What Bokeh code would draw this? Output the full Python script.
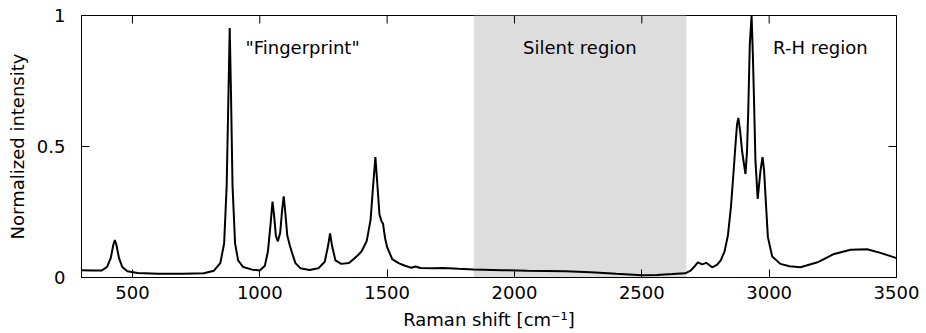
import math
from bokeh.plotting import figure
from bokeh.models import (Range1d, FixedTicker, NumeralTickFormatter,
                          BoxAnnotation, ColumnDataSource, Label)
from bokeh.embed import file_html
from bokeh.resources import INLINE

# Raman shift (cm^-1) and normalized intensity
shift = [300, 340, 380, 400, 415, 425, 431, 437, 447, 460, 480, 520, 600, 700, 780,
         820, 845, 860, 870, 877, 882, 887, 893, 903, 915, 935, 970, 1000,
         1020, 1032, 1042, 1050, 1056, 1063, 1071, 1080, 1088, 1094, 1100, 1108,
         1118, 1128, 1140, 1160, 1195, 1230, 1255, 1268, 1276, 1284, 1297, 1320,
         1350, 1370, 1385, 1400, 1420, 1435, 1445, 1454, 1462, 1470, 1478, 1484,
         1492, 1500, 1520, 1545, 1570, 1595, 1612, 1630, 1680, 1720, 1780, 1840,
         1950, 2050, 2200, 2300, 2400, 2500, 2560, 2620, 2670, 2690, 2705, 2720,
         2737, 2753, 2776, 2795, 2810, 2825, 2838, 2850, 2860, 2868, 2874, 2879,
         2886, 2894, 2907, 2913, 2918, 2924, 2931, 2936, 2940, 2946, 2955, 2966,
         2974, 2980, 2986, 2995, 3012, 3044, 3080, 3123, 3190, 3255, 3320, 3385,
         3440, 3500]
intensity = [0.028, 0.027, 0.027, 0.040, 0.075, 0.125, 0.143, 0.125, 0.075, 0.040,
             0.024, 0.017, 0.014, 0.014, 0.016,
             0.026, 0.055, 0.13, 0.35, 0.70, 0.952, 0.70, 0.35, 0.13, 0.065, 0.04,
             0.03, 0.027,
             0.045, 0.10, 0.20, 0.29, 0.24, 0.16, 0.138, 0.17, 0.26, 0.31, 0.25, 0.16,
             0.122, 0.09, 0.055, 0.035, 0.029, 0.035, 0.06, 0.12, 0.168, 0.12, 0.065,
             0.052,
             0.055, 0.072, 0.085, 0.10, 0.14, 0.22, 0.35, 0.46, 0.35, 0.24, 0.215,
             0.205,
             0.15, 0.116, 0.07, 0.055, 0.045, 0.037, 0.042, 0.036, 0.035, 0.036, 0.033,
             0.031,
             0.028, 0.026, 0.024, 0.02, 0.014, 0.009, 0.010, 0.013, 0.016, 0.025, 0.04,
             0.058,
             0.05, 0.056, 0.039, 0.048, 0.065, 0.10, 0.16, 0.27, 0.40, 0.51, 0.585,
             0.609,
             0.56, 0.48, 0.395, 0.48, 0.64, 0.89, 1.0, 0.85, 0.70, 0.45, 0.30, 0.408,
             0.459, 0.41, 0.306, 0.154, 0.08, 0.052, 0.043, 0.039, 0.058, 0.09, 0.106,
             0.108, 0.093, 0.074]

silent_start, silent_end = 1840, 2675
region_names = ['"Fingerprint"', "Silent region", "R-H region"]
region_x = [1168, 2257, 3201]
region_y = [0.877, 0.877, 0.877]

x_ticks = [500, 1000, 1500, 2000, 2500, 3000, 3500]
y_ticks = [0, 0.5, 1]

FONT = "DejaVu Sans"
FS = "18px"
TICK = 8

p = figure(width=926, height=333, output_backend="svg", toolbar_location=None,
           x_range=Range1d(300, 3500), y_range=Range1d(0, 1),
           min_border_left=81, min_border_right=30, min_border_top=15,
           min_border_bottom=56, x_axis_label="Raman shift [cm⁻¹]",
           y_axis_label="Normalized intensity")
p.grid.visible = False
p.outline_line_color = "black"
p.outline_line_width = 1
p.background_fill_color = "white"
p.border_fill_color = "white"

p.add_layout(BoxAnnotation(left=silent_start, right=silent_end,
                           fill_color="#dddddd", fill_alpha=1.0,
                           line_color=None, level="underlay"))

src = ColumnDataSource(dict(x=shift, y=intensity))
p.line("x", "y", source=src, line_color="black", line_width=2)

for t, xx, yy in zip(region_names, region_x, region_y):
    p.add_layout(Label(x=xx, y=yy, text=t, text_align="center",
                       text_baseline="middle", text_font=FONT,
                       text_font_size=FS, text_color="black"))

# mirrored inward ticks on the top and right frame edges
p.ray(x=x_ticks, y=[p.y_range.end] * len(x_ticks), length=TICK,
      length_units="screen", angle=-math.pi / 2, line_color="black", line_width=1)
p.ray(x=[p.x_range.end] * len(y_ticks), y=y_ticks, length=TICK,
      length_units="screen", angle=math.pi, line_color="black", line_width=1)

def style(ax, ticks):
    ax.ticker = FixedTicker(ticks=ticks)
    ax.major_tick_in = TICK
    ax.major_tick_out = 0
    ax.minor_tick_line_color = None
    ax.axis_line_color = "black"
    ax.major_tick_line_color = "black"
    ax.major_label_text_font = FONT
    ax.major_label_text_font_size = FS
    ax.major_label_text_color = "black"
    ax.axis_label_text_font = FONT
    ax.axis_label_text_font_size = FS
    ax.axis_label_text_font_style = "normal"
    ax.axis_label_text_color = "black"

style(p.xaxis[0], x_ticks)
p.xaxis[0].major_label_standoff = 8
p.xaxis[0].axis_label_standoff = 7
style(p.yaxis[0], y_ticks)
p.yaxis[0].formatter = NumeralTickFormatter(format="0.[0]")
p.yaxis[0].major_label_standoff = 16
p.yaxis[0].axis_label_standoff = 6

open("out.html", "w").write(file_html(p, INLINE))
